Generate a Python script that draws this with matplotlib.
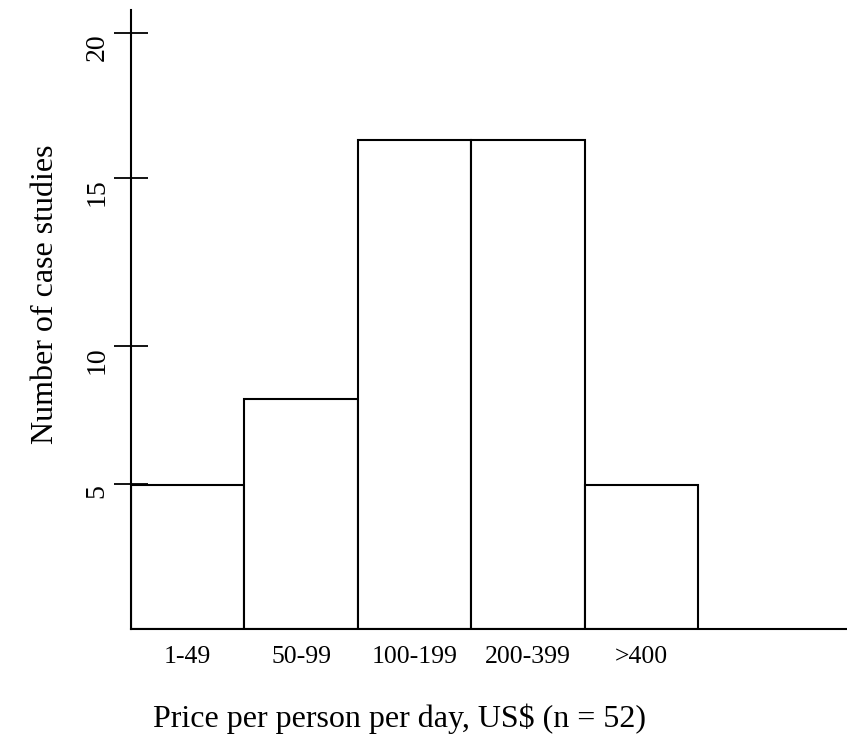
import matplotlib.pyplot as plt

# price bands and number of case studies in each (n = 52)
categories = ["1-49", "50-99", "100-199", "200-399", ">400"]
counts = [5, 8, 17, 17, 5]
ytick_labels = ["5", "10", "15", "20"]
ytick_pos = [5.03, 9.83, 15.66, 20.7]  # where the ticks sit on the original axis

plt.rcParams['font.family'] = ['Liberation Serif', 'DejaVu Serif']

fig = plt.figure(figsize=(8.47, 7.43), dpi=100)
ax = fig.add_axes([131 / 847, 1 - 629 / 743, 1 - 131 / 847, (629 - 10) / 743])

x = list(range(len(categories)))
ax.bar(x, counts, width=1.0, align='edge', color='white', edgecolor='black', linewidth=1.5)

ax.set_xlim(0, 6.31)
ax.set_ylim(0, 21.5)

ax.set_xticks([i + 0.5 for i in x])
ax.set_xticklabels(categories, fontsize=18.5)
ax.tick_params(axis='x', length=0, pad=12)

# labels hang just below their tick, as in the original
ax.set_yticks(ytick_pos)
ax.set_yticklabels(ytick_labels, rotation=90, va='top', fontsize=20)
ax.tick_params(axis='y', direction='inout', length=25, width=1.3, pad=3)

for s in ['top', 'right']:
    ax.spines[s].set_visible(False)
for s in ['left', 'bottom']:
    ax.spines[s].set_linewidth(1.5)

ax.set_ylabel("Number of case studies", fontsize=23)
ax.yaxis.set_label_coords((60 - 131) / (847 - 131), (629 - 294) / (629 - 10))
ax.set_xlabel("Price per person per day, US$ (n = 52)", fontsize=23)
ax.xaxis.set_label_coords((399 - 131) / (847 - 131), -(703 - 629) / (629 - 10))

fig.savefig("out.png", dpi=100)
